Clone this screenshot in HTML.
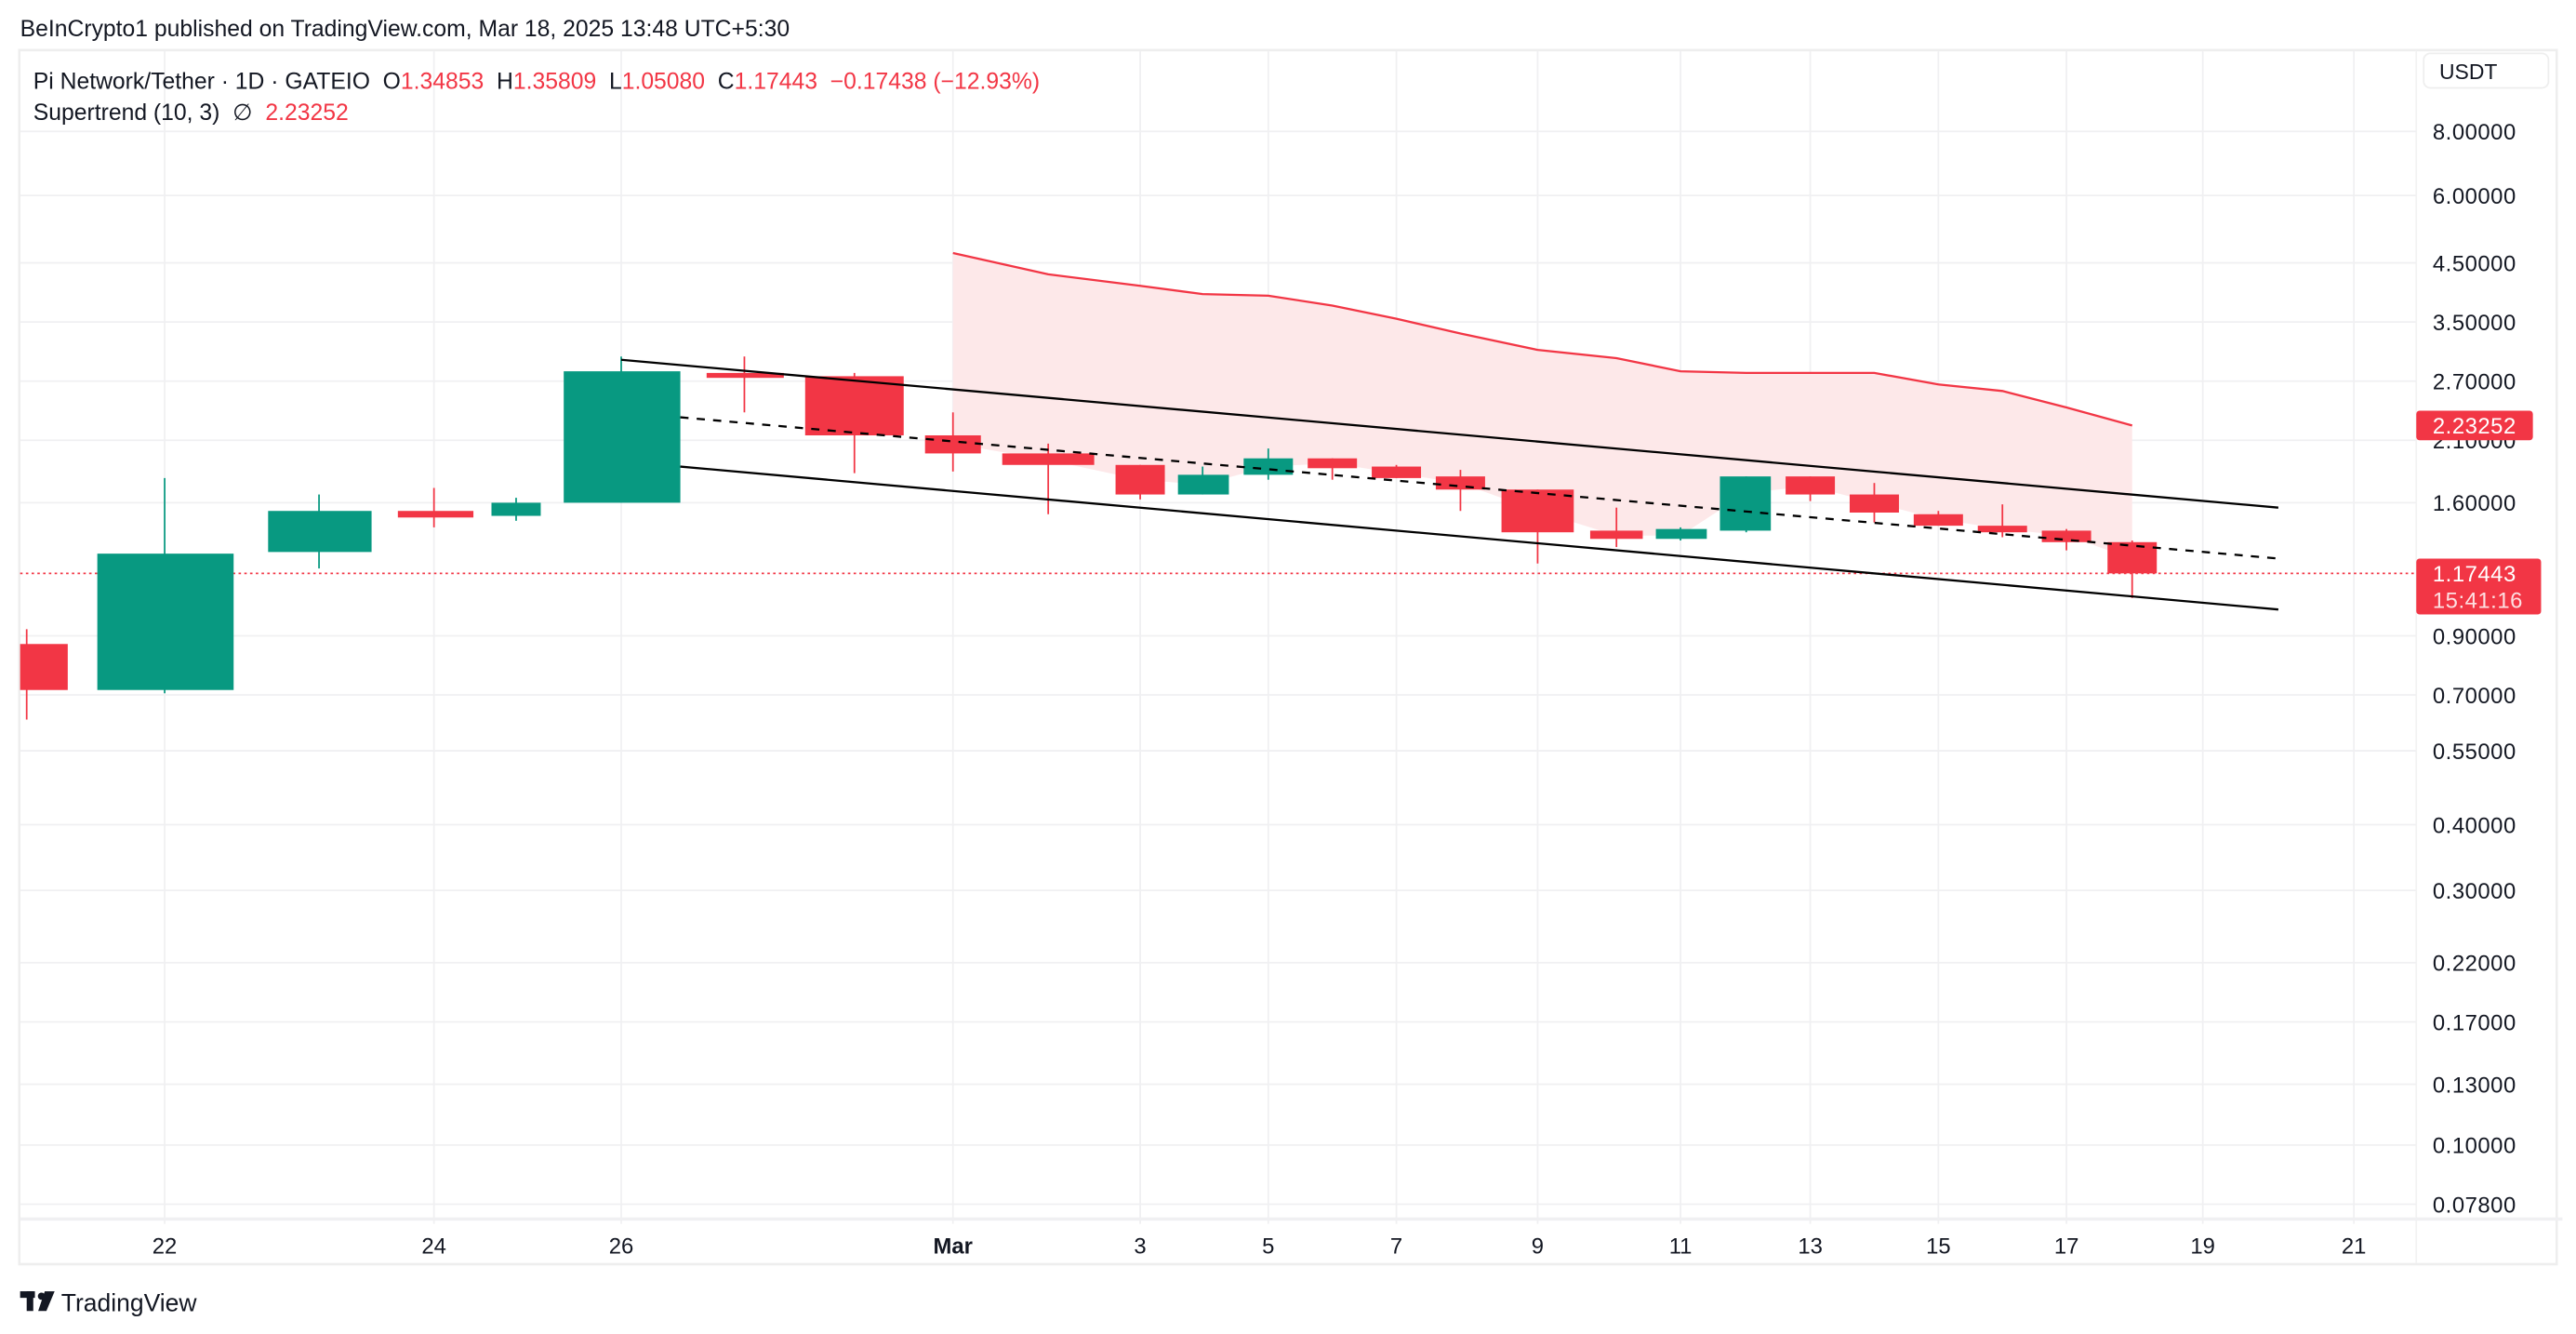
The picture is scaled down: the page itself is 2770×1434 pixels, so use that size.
<!DOCTYPE html>
<html><head><meta charset="utf-8"><style>
html,body{margin:0;padding:0;background:#fff;}
svg{display:block;font-family:"Liberation Sans",sans-serif;}
text{white-space:pre;}
</style></head><body>
<svg width="2770" height="1434" viewBox="0 0 1568 812" xmlns="http://www.w3.org/2000/svg" xml:space="preserve">
<rect width="1568" height="812" fill="#fff"/>
<text x="12" y="22" font-size="14" fill="#131722">BeInCrypto1 published on TradingView.com, Mar 18, 2025 13:48 UTC+5:30</text>
<rect x="11.5" y="30.5" width="1545" height="739" fill="none" stroke="#eee" stroke-width="1.5"/>
<line x1="1471" y1="31" x2="1471" y2="769" stroke="#f2f2f2"/>
<g stroke="#f0f0f2" stroke-width="1">
<line x1="12" x2="1471" y1="80" y2="80"/><line x1="12" x2="1471" y1="119" y2="119"/>
<line x1="12" x2="1471" y1="160" y2="160"/><line x1="12" x2="1471" y1="196" y2="196"/>
<line x1="12" x2="1471" y1="232" y2="232"/><line x1="12" x2="1471" y1="268" y2="268"/>
<line x1="12" x2="1471" y1="306" y2="306"/><line x1="12" x2="1471" y1="387" y2="387"/>
<line x1="12" x2="1471" y1="423" y2="423"/><line x1="12" x2="1471" y1="457" y2="457"/>
<line x1="12" x2="1471" y1="502" y2="502"/><line x1="12" x2="1471" y1="542" y2="542"/>
<line x1="12" x2="1471" y1="586" y2="586"/><line x1="12" x2="1471" y1="622" y2="622"/>
<line x1="12" x2="1471" y1="660" y2="660"/><line x1="12" x2="1471" y1="697" y2="697"/>
<line x1="12" x2="1471" y1="733" y2="733"/>
<line y1="31" y2="745" x1="100" x2="100"/><line y1="31" y2="745" x1="264" x2="264"/>
<line y1="31" y2="745" x1="378" x2="378"/><line y1="31" y2="745" x1="580" x2="580"/>
<line y1="31" y2="745" x1="694" x2="694"/><line y1="31" y2="745" x1="772" x2="772"/>
<line y1="31" y2="745" x1="850" x2="850"/><line y1="31" y2="745" x1="936" x2="936"/>
<line y1="31" y2="745" x1="1023" x2="1023"/><line y1="31" y2="745" x1="1102" x2="1102"/>
<line y1="31" y2="745" x1="1180" x2="1180"/><line y1="31" y2="745" x1="1258" x2="1258"/>
<line y1="31" y2="745" x1="1341" x2="1341"/><line y1="31" y2="745" x1="1433" x2="1433"/>
</g>
<line x1="12" x2="1560" y1="742" y2="742" stroke="#f0f0f2" stroke-width="2"/>
<text x="20" y="54" font-size="14" fill="#131722">Pi Network/Tether · 1D · GATEIO  O<tspan fill="#f23645">1.34853</tspan>  H<tspan fill="#f23645">1.35809</tspan>  L<tspan fill="#f23645">1.05080</tspan>  C<tspan fill="#f23645">1.17443  −0.17438 (−12.93%)</tspan></text>
<text x="20" y="73" font-size="14" fill="#131722">Supertrend (10, 3)  ∅  <tspan fill="#f23645">2.23252</tspan></text>
<polygon fill="#fde8e9" points="580,154 638,167 694,174 732,179 772,180 811,186 850,194 889,203 936,213 984,218 1023,226 1063,227 1102,227 1141,227 1180,234 1219,238 1258,248 1298,259 1298,340 1258,326 1219,322 1180,316 1141,306 1102,296 1063,300 1023,326 984,326 936,311 889,294 850,288 811,282 772,284 732,295 694,292 638,280 580,270"/>
<polyline fill="none" stroke="#f23645" stroke-width="1.3" points="580,154 638,167 694,174 732,179 772,180 811,186 850,194 889,203 936,213 984,218 1023,226 1063,227 1102,227 1141,227 1180,234 1219,238 1258,248 1298,259"/>
<line x1="12" x2="1471" y1="349" y2="349" stroke="#f23645" stroke-width="1" stroke-dasharray="1.5,2"/>
<g stroke-width="1">
<g fill="#f23645" stroke="#f23645">
<line x1="16" x2="16" y1="383" y2="438"/><rect x="12" y="392" width="29" height="28" stroke="none"/>
<line x1="264" x2="264" y1="297" y2="321"/><rect x="242" y="311" width="46" height="4" stroke="none"/>
<line x1="453" x2="453" y1="217" y2="251"/><rect x="430" y="227" width="47" height="3" stroke="none"/>
<line x1="520" x2="520" y1="227" y2="288"/><rect x="490" y="229" width="60" height="36" stroke="none"/>
<line x1="580" x2="580" y1="251" y2="287"/><rect x="563" y="265" width="34" height="11" stroke="none"/>
<line x1="638" x2="638" y1="270" y2="313"/><rect x="610" y="276" width="56" height="7" stroke="none"/>
<line x1="694" x2="694" y1="283" y2="304"/><rect x="679" y="283" width="30" height="18" stroke="none"/>
<line x1="811" x2="811" y1="279" y2="292"/><rect x="796" y="279" width="30" height="6" stroke="none"/>
<line x1="850" x2="850" y1="283" y2="291"/><rect x="835" y="284" width="30" height="7" stroke="none"/>
<line x1="889" x2="889" y1="286" y2="311"/><rect x="874" y="290" width="30" height="8" stroke="none"/>
<line x1="936" x2="936" y1="298" y2="343"/><rect x="914" y="298" width="44" height="26" stroke="none"/>
<line x1="984" x2="984" y1="309" y2="333"/><rect x="968" y="323" width="32" height="5" stroke="none"/>
<line x1="1102" x2="1102" y1="290" y2="305"/><rect x="1087" y="290" width="30" height="11" stroke="none"/>
<line x1="1141" x2="1141" y1="294" y2="318"/><rect x="1126" y="301" width="30" height="11" stroke="none"/>
<line x1="1180" x2="1180" y1="311" y2="320"/><rect x="1165" y="313" width="30" height="7" stroke="none"/>
<line x1="1219" x2="1219" y1="307" y2="327"/><rect x="1204" y="320" width="30" height="4" stroke="none"/>
<line x1="1258" x2="1258" y1="322" y2="335"/><rect x="1243" y="323" width="30" height="7" stroke="none"/>
<line x1="1298" x2="1298" y1="329" y2="364"/><rect x="1283" y="330" width="30" height="19" stroke="none"/>
</g>
<g fill="#089981" stroke="#089981">
<line x1="100" x2="100" y1="291" y2="422"/><rect x="59" y="337" width="83" height="83" stroke="none"/>
<line x1="194" x2="194" y1="301" y2="346"/><rect x="163" y="311" width="63" height="25" stroke="none"/>
<line x1="314" x2="314" y1="303" y2="317"/><rect x="299" y="306" width="30" height="8" stroke="none"/>
<line x1="378" x2="378" y1="217" y2="306"/><rect x="343" y="226" width="71" height="80" stroke="none"/>
<line x1="732" x2="732" y1="284" y2="301"/><rect x="717" y="289" width="31" height="12" stroke="none"/>
<line x1="772" x2="772" y1="273" y2="292"/><rect x="757" y="279" width="30" height="10" stroke="none"/>
<line x1="1023" x2="1023" y1="321" y2="329"/><rect x="1008" y="322" width="31" height="6" stroke="none"/>
<line x1="1063" x2="1063" y1="290" y2="324"/><rect x="1047" y="290" width="31" height="33" stroke="none"/>
</g>
</g>
<line x1="378" y1="219" x2="1387" y2="309" stroke="#000" stroke-width="1.3"/>
<line x1="414" y1="254" x2="1387" y2="340" stroke="#000" stroke-width="1.3" stroke-dasharray="5,5"/>
<line x1="414" y1="284" x2="1387" y2="371" stroke="#000" stroke-width="1.3"/>
<rect x="1475.5" y="32.5" width="76" height="21" rx="4" fill="#fff" stroke="#eee"/>
<text x="1485" y="48" font-size="13" fill="#131722">USDT</text>
<g font-size="13.5" fill="#131722" letter-spacing="0.3">
<text x="1481" y="85">8.00000</text><text x="1481" y="124">6.00000</text>
<text x="1481" y="165">4.50000</text><text x="1481" y="201">3.50000</text>
<text x="1481" y="237">2.70000</text><text x="1481" y="273">2.10000</text>
<text x="1481" y="311">1.60000</text><text x="1481" y="392">0.90000</text>
<text x="1481" y="428">0.70000</text><text x="1481" y="462">0.55000</text>
<text x="1481" y="507">0.40000</text><text x="1481" y="547">0.30000</text>
<text x="1481" y="591">0.22000</text><text x="1481" y="627">0.17000</text>
<text x="1481" y="665">0.13000</text><text x="1481" y="702">0.10000</text>
<text x="1481" y="738">0.07800</text>
</g>
<rect x="1471" y="250" width="71" height="18" rx="2" fill="#f23645"/>
<text x="1481" y="264" font-size="13.5" fill="#fff" letter-spacing="0.3">2.23252</text>
<rect x="1471" y="340" width="76" height="34" rx="2" fill="#f23645"/>
<text x="1481" y="354" font-size="13.5" fill="#fff" letter-spacing="0.3">1.17443</text>
<text x="1481" y="370" font-size="13.5" fill="#fde0e2" letter-spacing="0.3">15:41:16</text>
<g font-size="13.5" fill="#131722" text-anchor="middle">
<text x="100" y="763">22</text><text x="264" y="763">24</text><text x="378" y="763">26</text>
<text x="580" y="763" font-weight="bold">Mar</text><text x="694" y="763">3</text><text x="772" y="763">5</text>
<text x="850" y="763">7</text><text x="936" y="763">9</text><text x="1023" y="763">11</text>
<text x="1102" y="763">13</text><text x="1180" y="763">15</text><text x="1258" y="763">17</text>
<text x="1341" y="763">19</text><text x="1433" y="763">21</text>
</g>
<g fill="#131722">
<rect x="12" y="786" width="9" height="4"/><rect x="16" y="786" width="4" height="12"/>
<circle cx="25" cy="789" r="2.2"/><polygon points="27,786 33,786 28,798 23,798"/>
</g>
<text x="37" y="798" font-size="15" fill="#131722">TradingView</text>
</svg>
</body></html>
